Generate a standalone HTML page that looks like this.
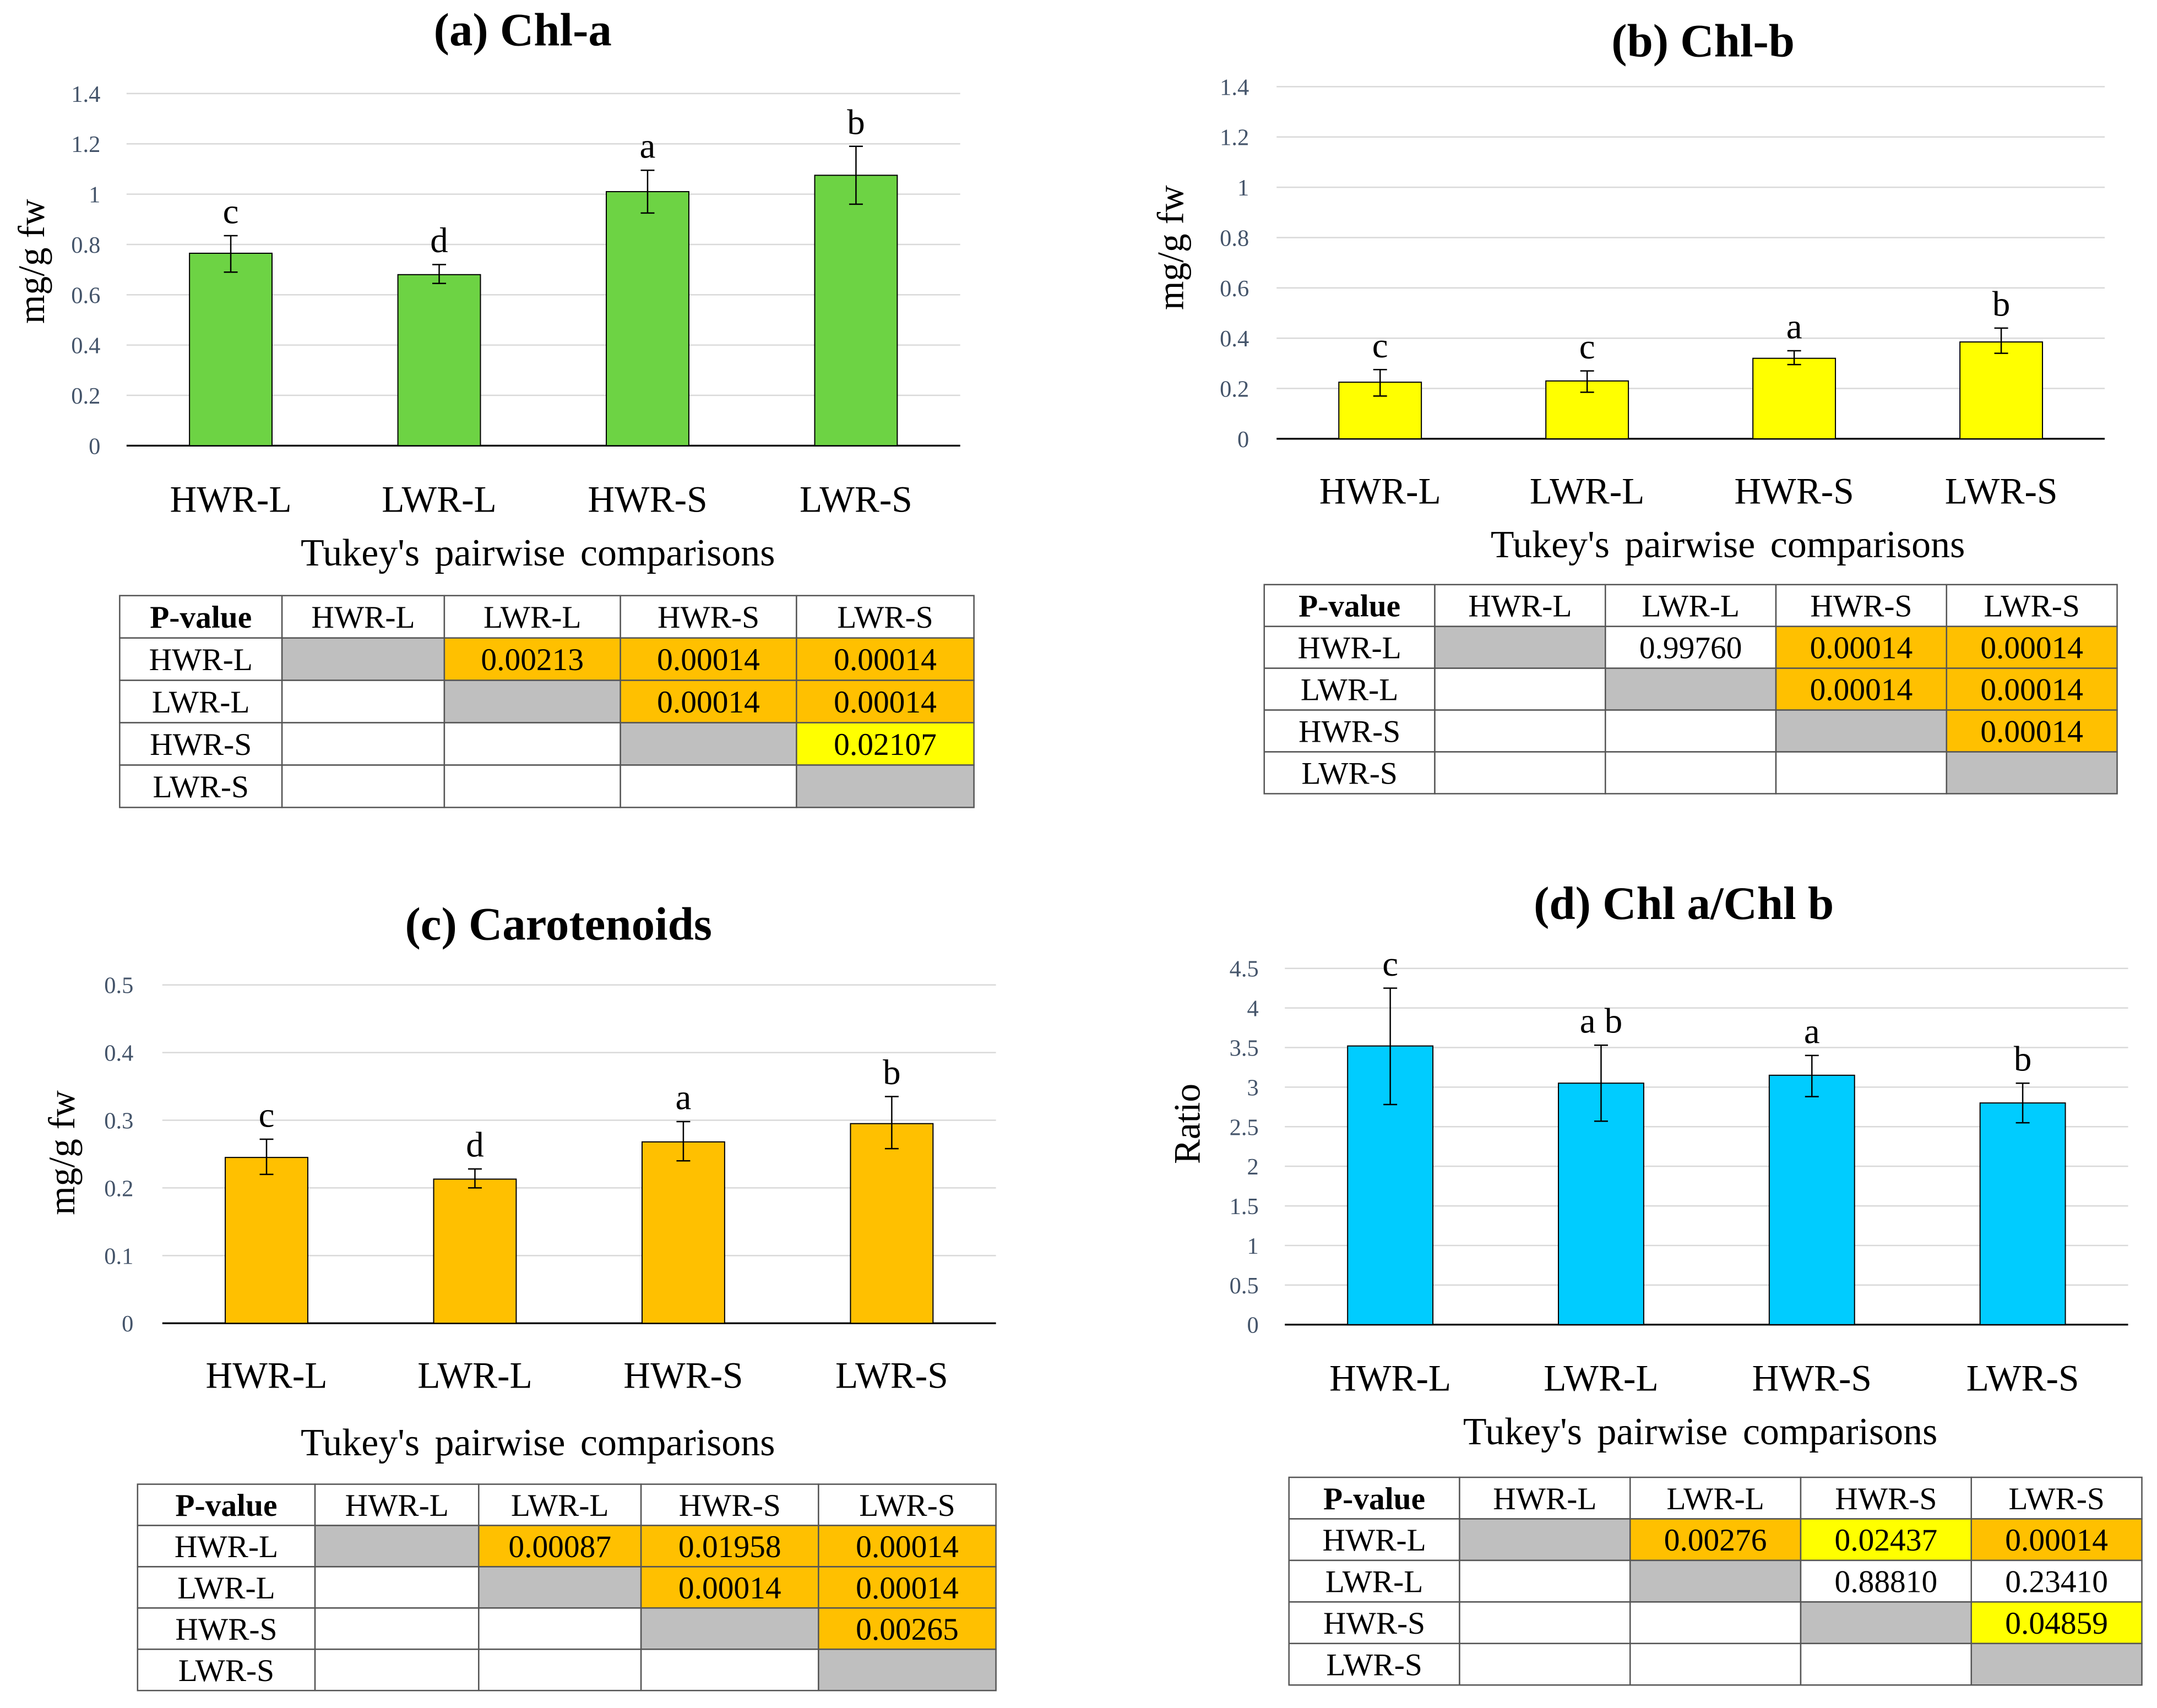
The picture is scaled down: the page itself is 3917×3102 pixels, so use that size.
<!DOCTYPE html>
<html><head><meta charset="utf-8"><style>
html,body{margin:0;padding:0;background:#fff;width:3917px;height:3102px;overflow:hidden}
svg{display:block}
text{font-family:"Liberation Serif",serif}
</style></head><body>
<svg id="fig" width="3917" height="3102" viewBox="0 0 1568 1241.7" preserveAspectRatio="none" xmlns="http://www.w3.org/2000/svg"></svg>
<script>
const categories = ["HWR-L","LWR-L","HWR-S","LWR-S"];
const chlaValues = [0.765,0.68,1.01,1.075];
const chlaLow = [0.69,0.645,0.925,0.96];
const chlaHigh = [0.835,0.72,1.095,1.19];
const chlaLetters = ["c","d","a","b"];
const chlaTicks = ["0","0.2","0.4","0.6","0.8","1","1.2","1.4"];
const chlbValues = [0.225,0.23,0.32,0.385];
const chlbLow = [0.17,0.185,0.295,0.34];
const chlbHigh = [0.275,0.27,0.35,0.44];
const chlbLetters = ["c","c","a","b"];
const chlbTicks = ["0","0.2","0.4","0.6","0.8","1","1.2","1.4"];
const carValues = [0.245,0.213,0.268,0.295];
const carLow = [0.22,0.2,0.24,0.258];
const carHigh = [0.272,0.228,0.298,0.335];
const carLetters = ["c","d","a","b"];
const carTicks = ["0","0.1","0.2","0.3","0.4","0.5"];
const ratioValues = [3.52,3.05,3.15,2.8];
const ratioLow = [2.78,2.57,2.88,2.55];
const ratioHigh = [4.25,3.53,3.4,3.05];
const ratioLetters = ["c","a b","a","b"];
const ratioTicks = ["0","0.5","1","1.5","2","2.5","3","3.5","4","4.5"];
const tableA = [["","0.00213","0.00014","0.00014"],["","","0.00014","0.00014"],["","","","0.02107"],["","","",""]];
const colorA = [["g","o","o","o"],["w","g","o","o"],["w","w","g","y"],["w","w","w","g"]];
const tableB = [["","0.99760","0.00014","0.00014"],["","","0.00014","0.00014"],["","","","0.00014"],["","","",""]];
const colorB = [["g","w","o","o"],["w","g","o","o"],["w","w","g","o"],["w","w","w","g"]];
const tableC = [["","0.00087","0.01958","0.00014"],["","","0.00014","0.00014"],["","","","0.00265"],["","","",""]];
const colorC = [["g","o","o","o"],["w","g","o","o"],["w","w","g","o"],["w","w","w","g"]];
const tableD = [["","0.00276","0.02437","0.00014"],["","","0.88810","0.23410"],["","","","0.04859"],["","","",""]];
const colorD = [["g","o","y","o"],["w","g","w","w"],["w","w","g","y"],["w","w","w","g"]];

const NS="http://www.w3.org/2000/svg";
const svg=document.getElementById('fig');
const fills={g:"#BFBFBF",o:"#FFC000",y:"#FFFF00",w:"#FFFFFF"};
function mk(tag,attrs,parent,txt){const e=document.createElementNS(NS,tag);for(const k in attrs)e.setAttribute(k,attrs[k]);if(txt!==undefined)e.textContent=txt;(parent||svg).appendChild(e);return e;}

function chart(o){
  const g=mk('g',{});
  
  
  const t=mk('text',{x:o.titleX,y:o.titleY,'font-size':34,'font-weight':'bold','text-anchor':'middle'},g,o.title);
  
  
  const yv=v=>o.y0-(v/o.max)*(o.y0-o.yTop);
  const n=o.ticks.length;
  for(let i=0;i<n;i++){
    const v=o.max*i/(n-1), y=yv(v);
    if(i>0){const gl=mk('line',{x1:o.x0,x2:o.x1,y1:y,y2:y,stroke:'#D9D9D9','stroke-width':1},g);
      }
    const tl=mk('text',{x:o.tickX,y:y+6,'font-size':17,'text-anchor':'end',fill:'#44546A'},g,o.ticks[i]);
    
  }
  const ax=mk('line',{x1:o.x0,x2:o.x1,y1:o.y0,y2:o.y0,stroke:'#000','stroke-width':1.3},g);
  
  const step=(o.x1-o.x0)/categories.length;
  for(let i=0;i<categories.length;i++){
    const cx=o.x0+step*(i+0.5);
    const top=yv(o.values[i]);
    const b=mk('rect',{x:cx-o.bw/2,y:top,width:o.bw,height:o.y0-top,fill:o.color,stroke:'#000','stroke-width':0.8},g);
    
    
    const hi=yv(o.high[i]),lo=yv(o.low[i]);
    const eb=mk('path',{d:`M${cx},${hi}V${lo}M${cx-5},${hi}H${cx+5}M${cx-5},${lo}H${cx+5}`,stroke:'#000','stroke-width':1,fill:'none'},g);
    
    const lt=mk('text',{x:cx,y:hi-9,'font-size':26,'text-anchor':'middle'},g,o.letters[i]);
    
    const cl=mk('text',{x:cx,y:o.catY,'font-size':27,'text-anchor':'middle'},g,categories[i]);
    
  }
  const yt=mk('text',{x:0,y:0,'font-size':27,'text-anchor':'middle',transform:`translate(${o.ytX},${o.ytY}) rotate(-90)`},g,o.ytitle);
  
  const tk=mk('text',{x:o.tukX,y:o.tukY,'font-size':28,'text-anchor':'middle','word-spacing':4},g,"Tukey's pairwise  comparisons");
  
  const tg=mk('g',{},g);
  
  
  const cols=o.cols, rh=(o.tb-o.tt)/5;
  const heads=["P-value"].concat(categories);
  for(let r=0;r<5;r++){
    for(let c=0;c<5;c++){
      const x=cols[c],w=cols[c+1]-cols[c],y=o.tt+r*rh;
      let fill='#fff',txt='';
      if(r===0)txt=heads[c];
      else if(c===0)txt=categories[r-1];
      else {fill=fills[o.colors[r-1][c-1]];txt=o.table[r-1][c-1];}
      const cell=mk('rect',{x:x,y:y,width:w,height:rh,fill:fill,stroke:'#555','stroke-width':1},tg);
      
      if(txt){
        const tt=mk('text',{x:x+w/2,y:y+rh/2+8,'font-size':23,'text-anchor':'middle','font-weight':(r===0&&c===0)?'bold':'normal'},tg,txt);
        
      }
    }
  }
}
chart({name:'chart-chl-a',title:'(a) Chl-a',titleX:380,titleY:33,x0:92,x1:698,y0:324,yTop:68,max:1.4,tickX:73,ticks:chlaTicks,
  values:chlaValues,low:chlaLow,high:chlaHigh,letters:chlaLetters,color:'#6DD344',bw:60,catY:372,ytitle:'mg/g fw',ytX:32,ytY:190,
  tukX:391,tukY:411,cols:[87,205,323,451,579,708],tt:433,tb:587,table:tableA,colors:colorA});
chart({name:'chart-chl-b',title:'(b) Chl-b',titleX:1238,titleY:41,x0:928,x1:1530,y0:319,yTop:63,max:1.4,tickX:908,ticks:chlbTicks,
  values:chlbValues,low:chlbLow,high:chlbHigh,letters:chlbLetters,color:'#FFFF00',bw:60,catY:366,ytitle:'mg/g fw',ytX:860,ytY:180,
  tukX:1256,tukY:405,cols:[919,1043,1167,1291,1415,1539],tt:425,tb:577,table:tableB,colors:colorB});
chart({name:'chart-carotenoids',title:'(c) Carotenoids',titleX:406,titleY:683,x0:118,x1:724,y0:962,yTop:716,max:0.5,tickX:97,ticks:carTicks,
  values:carValues,low:carLow,high:carHigh,letters:carLetters,color:'#FFC000',bw:60,catY:1009,ytitle:'mg/g fw',ytX:54,ytY:838,
  tukX:391,tukY:1058,cols:[100,229,348,466,595,724],tt:1079,tb:1229,table:tableC,colors:colorC});
chart({name:'chart-chl-ratio',title:'(d) Chl a/Chl b',titleX:1224,titleY:668,x0:934,x1:1547,y0:963,yTop:704,max:4.5,tickX:915,ticks:ratioTicks,
  values:ratioValues,low:ratioLow,high:ratioHigh,letters:ratioLetters,color:'#00CCFF',bw:62,catY:1011,ytitle:'Ratio',ytX:872,ytY:817,
  tukX:1236,tukY:1050,cols:[937,1061,1185,1309,1433,1557],tt:1074,tb:1225,table:tableD,colors:colorD});
</script>
</body></html>
